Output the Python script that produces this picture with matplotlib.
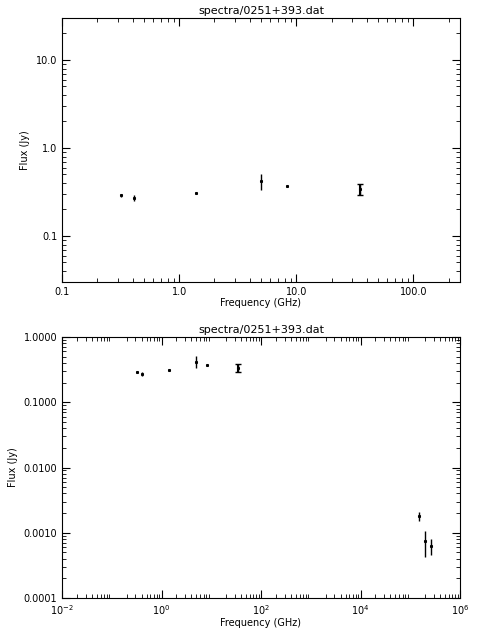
import matplotlib
matplotlib.use("Agg")
import matplotlib.pyplot as plt
from matplotlib.ticker import FixedLocator, FixedFormatter

# measured spectrum points (GHz, Jy)
freq = [0.32, 0.41, 1.4, 5.0, 8.4, 35.0]
flux = [0.29, 0.27, 0.31, 0.42, 0.37, 0.34]
err = [0.01, 0.02, 0.008, 0.09, 0.008, 0.045]

# high-frequency points, only on the wide plot
freq_hi = [1.5e5, 2.0e5, 2.6e5]
flux_hi = [0.0018, 0.00074, 0.00062]
err_hi = [0.0003, 0.00032, 0.00017]

title = "spectra/0251+393.dat"

plt.rcParams["font.size"] = 7
fig = plt.figure(figsize=(4.8, 6.4), dpi=100)

ax1 = fig.add_axes([62/480, 1-282/640, 398/480, 264/640])
ax1.errorbar(freq, flux, yerr=err, fmt="s", ms=1.2, color="k", elinewidth=1, capsize=0)
ax1.errorbar(freq[-1:], flux[-1:], yerr=err[-1:], fmt="none", ecolor="k", elinewidth=1.5, capsize=2)
ax1.set_xscale("log")
ax1.set_yscale("log")
ax1.set_xlim(0.1, 250)
ax1.set_ylim(0.03, 30)
ax1.xaxis.set_major_locator(FixedLocator([0.1, 1, 10, 100]))
ax1.xaxis.set_major_formatter(FixedFormatter(["0.1", "1.0", "10.0", "100.0"]))
ax1.yaxis.set_major_locator(FixedLocator([0.1, 1, 10]))
ax1.yaxis.set_major_formatter(FixedFormatter(["0.1", "1.0", "10.0"]))
ax1.set_xlabel("Frequency (GHz)", labelpad=1)
ax1.set_ylabel("Flux (Jy)")
ax1.set_title(title, fontsize=8, pad=3)

ax2 = fig.add_axes([62/480, 1-598/640, 398/480, 261/640])
ax2.errorbar(freq + freq_hi, flux + flux_hi, yerr=err + err_hi, fmt="s", ms=1.2,
             color="k", elinewidth=1, capsize=0)
ax2.errorbar(freq[-1:], flux[-1:], yerr=err[-1:], fmt="none", ecolor="k", elinewidth=1.5, capsize=2)
ax2.set_xscale("log")
ax2.set_yscale("log")
ax2.set_xlim(1e-2, 1e6)
ax2.set_ylim(1e-4, 1.0)
ax2.xaxis.set_major_locator(FixedLocator([1e-2, 1, 1e2, 1e4, 1e6]))
ax2.yaxis.set_major_locator(FixedLocator([1e-4, 1e-3, 1e-2, 0.1, 1]))
ax2.yaxis.set_major_formatter(FixedFormatter(["0.0001", "0.0010", "0.0100", "0.1000", "1.0000"]))
ax2.set_xlabel("Frequency (GHz)", labelpad=1)
ax2.set_ylabel("Flux (Jy)")
ax2.set_title(title, fontsize=8, pad=3)

for ax in (ax1, ax2):
    ax.tick_params(which="both", direction="in", top=True, right=True)
    ax.tick_params(which="major", length=6)
    ax.tick_params(which="minor", length=3)

fig.savefig("out.png", dpi=100)
